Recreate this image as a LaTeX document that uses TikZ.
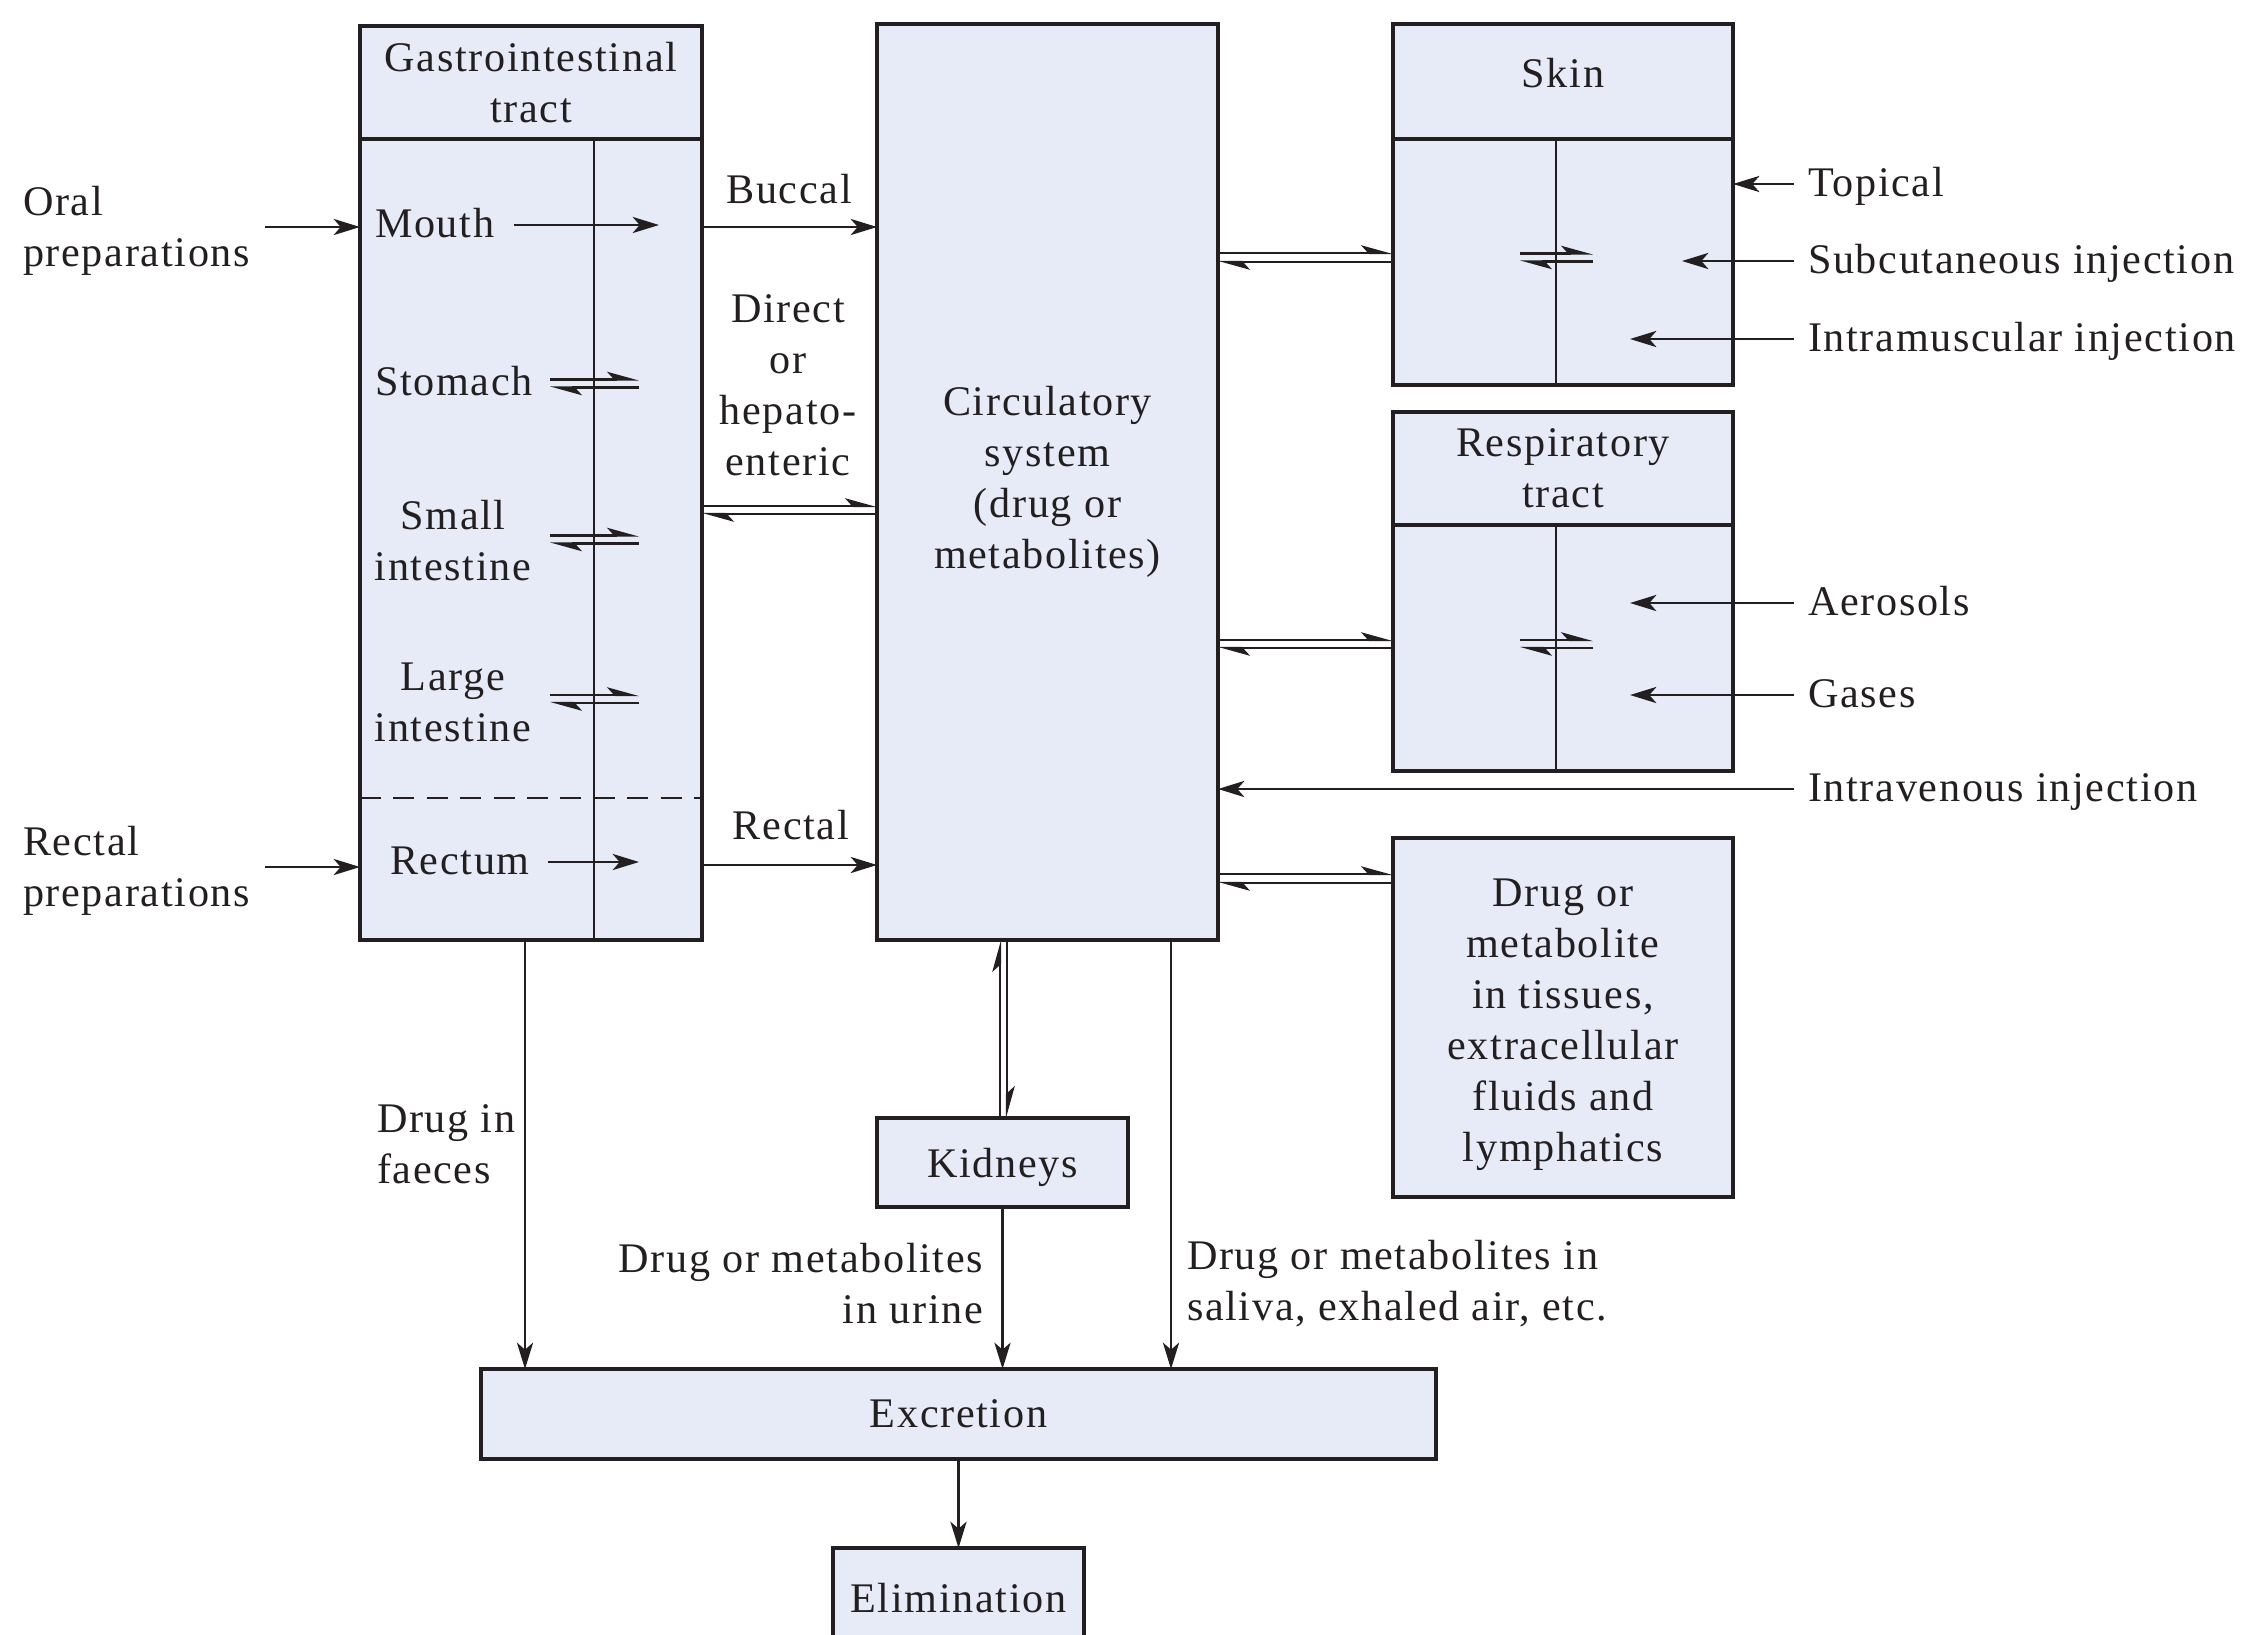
\documentclass[tikz,border=0pt]{standalone}
\usepackage{fontspec}
\setmainfont[LetterSpace=4]{Liberation Serif}
\usepackage{tikz}
\definecolor{boxfill}{RGB}{231,235,248}
\definecolor{ink}{RGB}{35,31,32}
\tikzset{drugbox/.style={draw=ink,fill=boxfill,line width=1pt,inner sep=0pt,outer sep=0pt,align=center},
         words/.style={inner sep=0pt,outer sep=0pt},
         flow/.style={draw=ink,line width=0.7pt,-{Stealth[length=7.5pt,width=4.6pt,inset=2pt]}},
         harp/.style={draw=ink,line width=0.6pt,-{Stealth[harpoon,length=8pt,width=4.4pt,inset=2pt]}},
         divider/.style={draw=ink,line width=0.6pt},
         dashline/.style={draw=ink,line width=0.6pt,dash pattern=on 6pt off 3.5pt}}
\usetikzlibrary{arrows.meta}
\usetikzlibrary{positioning}

\begin{document}
\begin{tikzpicture}[font=\fontsize{12}{14.5}\selectfont,text=ink]
\useasboundingbox (0,0) rectangle (22.5,-16.34);
\clip (0,0) rectangle (22.5,-16.34);

%%boxes
\node[drugbox,anchor=north west,minimum width=3.42cm,minimum height=1.13cm] (gihead) at (3.60,-0.26) {Gastrointestinal\\tract};
\node[drugbox,below=0pt of gihead,minimum width=3.42cm,minimum height=8.01cm] (gi) {};
\node[drugbox,anchor=north west,minimum width=3.41cm,minimum height=9.16cm] (circ) at (8.77,-0.24) {Circulatory\\system\\(drug or\\metabolites)};
\node[drugbox,anchor=north west,minimum width=3.40cm,minimum height=1.15cm,text depth=5pt] (skinhead) at (13.93,-0.24) {Skin};
\node[drugbox,below=0pt of skinhead,minimum width=3.40cm,minimum height=2.46cm] (skin) {};
\node[drugbox,anchor=north west,minimum width=3.40cm,minimum height=1.13cm] (resphead) at (13.93,-4.12) {Respiratory\\tract};
\node[drugbox,below=0pt of resphead,minimum width=3.40cm,minimum height=2.46cm] (resp) {};
\node[drugbox,anchor=north west,minimum width=3.40cm,minimum height=3.59cm] (tissues) at (13.93,-8.38) {};
\node[drugbox,anchor=north west,minimum width=2.51cm,minimum height=0.89cm,text depth=0pt] (kidneys) at (8.77,-11.18) {Kidneys};
\node[drugbox,anchor=north west,minimum width=9.55cm,minimum height=0.90cm] (excretion) at (4.81,-13.69) {Excretion};
\node[drugbox,below=0.89cm of excretion,minimum width=2.51cm,minimum height=1.0cm] (elim) {Elimination};

%%inner lines
\draw[divider] (5.94,0 |- gi.north) -- (5.94,0 |- gi.south);
\draw[dashline] (gi.west |- 0,-7.98) -- (gi.east |- 0,-7.98);
\draw[divider] (15.56,0 |- skin.north) -- (15.56,0 |- skin.south);
\draw[divider] (15.56,0 |- resp.north) -- (15.56,0 |- resp.south);

%%texts
\node[words,align=center] (tissuetext) at ([yshift=-0.07cm]tissues.center) {Drug or\\metabolite\\in tissues,\\extracellular\\fluids and\\lymphatics};
\node[words,anchor=west,align=left] (oral) at (0.23,-2.31) {Oral\\preparations};
\node[words,anchor=west,align=left] (rectalprep) at (0.23,-8.71) {Rectal\\preparations};
\node[words,anchor=mid west] (mouth) at (3.75,-2.29) {Mouth};
\node[words,anchor=mid west] (stomach) at (3.75,-3.87) {Stomach};
\node[words,align=center] (smallint) at (4.53,-5.41) {Small\\intestine};
\node[words,align=center] (largeint) at (4.53,-7.02) {Large\\intestine};
\node[words,anchor=mid west] (rectum) at (3.90,-8.66) {Rectum};
\node[words] (buccal) at (7.89,-1.89) {Buccal};
\node[words,align=center] (direct) at (7.88,-3.85) {Direct\\or\\hepato-\\enteric};
\node[words] (rectal) at (7.91,-8.25) {Rectal};
\node[words,anchor=mid west] (topical) at (18.08,-1.88) {Topical};
\node[words,anchor=mid west] (subcut) at (18.08,-2.65) {Subcutaneous injection};
\node[words,anchor=mid west] (intramusc) at (18.08,-3.43) {Intramuscular injection};
\node[words,anchor=mid west] (aerosols) at (18.08,-6.07) {Aerosols};
\node[words,anchor=mid west] (gases) at (18.08,-6.99) {Gases};
\node[words,anchor=mid west] (iv) at (18.08,-7.93) {Intravenous injection};
\node[words,anchor=west,align=left] (faeces) at (3.77,-11.44) {Drug in\\faeces};
\node[words,anchor=east,align=right] (urine) at (9.83,-12.84) {Drug or metabolites\\in urine};
\node[words,anchor=west,align=left] (saliva) at (11.87,-12.84) {Drug or metabolites in\\saliva, exhaled air, etc.};

%%one way arrows
\draw[flow] ([xshift=0.15cm,yshift=0.04cm]oral.east) -- ([yshift=0.04cm]gi.west |- oral.east);
\draw[flow] ([xshift=0.15cm,yshift=0.04cm]rectalprep.east) -- ([yshift=0.04cm]gi.west |- rectalprep.east);
\draw[flow] ([xshift=0.2cm,yshift=0.04cm]mouth.mid east) -- ([yshift=0.04cm]6.59,0 |- mouth.mid east);
\draw[flow] ([xshift=0.18cm,yshift=0.04cm]rectum.mid east) -- ([yshift=0.04cm]6.39,0 |- rectum.mid east);
\draw[flow] (gi.east |- 0,-2.27) -- (circ.west |- 0,-2.27);
\draw[flow] (gi.east |- 0,-8.65) -- (circ.west |- 0,-8.65);
\draw[flow] ([xshift=-0.14cm,yshift=0.04cm]topical.mid west) -- ([yshift=0.04cm]skin.east |- topical.mid west);
\draw[flow] ([xshift=-0.14cm,yshift=0.04cm]subcut.mid west) -- ([yshift=0.04cm]16.82,0 |- subcut.mid west);
\draw[flow] ([xshift=-0.14cm,yshift=0.04cm]intramusc.mid west) -- ([yshift=0.04cm]16.30,0 |- intramusc.mid west);
\draw[flow] ([xshift=-0.14cm,yshift=0.04cm]aerosols.mid west) -- ([yshift=0.04cm]16.30,0 |- aerosols.mid west);
\draw[flow] ([xshift=-0.14cm,yshift=0.04cm]gases.mid west) -- ([yshift=0.04cm]16.30,0 |- gases.mid west);
\draw[flow] ([xshift=-0.14cm,yshift=0.04cm]iv.mid west) -- ([yshift=0.04cm]circ.east |- iv.mid west);
\draw[flow] (5.25,0 |- gi.south) -- (5.25,0 |- excretion.north);
\draw[flow] (kidneys.south) -- (kidneys.south |- excretion.north);
\draw[flow] (11.71,0 |- circ.south) -- (11.71,0 |- excretion.north);
\draw[flow] (excretion.south) -- (elim.north);

%%two way harpoons
\foreach \y in {-3.835,-5.395,-6.99} {
  \draw[harp] (5.50,{\y+0.04}) -- (6.39,{\y+0.04});
  \draw[harp] (6.39,{\y-0.04}) -- (5.50,{\y-0.04});
}
\foreach \y in {-2.575,-6.44} {
  \draw[harp] (15.20,{\y+0.04}) -- (15.93,{\y+0.04});
  \draw[harp] (15.93,{\y-0.04}) -- (15.20,{\y-0.04});
}
\draw[harp] (gi.east |- 0,-5.06) -- (circ.west |- 0,-5.06);
\draw[harp] (circ.west |- 0,-5.14) -- (gi.east |- 0,-5.14);
\draw[harp] (circ.east |- 0,-2.53) -- (skin.west |- 0,-2.53);
\draw[harp] (skin.west |- 0,-2.62) -- (circ.east |- 0,-2.62);
\draw[harp] (circ.east |- 0,-6.40) -- (resp.west |- 0,-6.40);
\draw[harp] (resp.west |- 0,-6.48) -- (circ.east |- 0,-6.48);
\draw[harp] (circ.east |- 0,-8.74) -- (tissues.west |- 0,-8.74);
\draw[harp] (tissues.west |- 0,-8.83) -- (circ.east |- 0,-8.83);
\draw[harp] (10.00,0 |- kidneys.north) -- (10.00,0 |- circ.south);
\draw[harp] (10.07,0 |- circ.south) -- (10.07,0 |- kidneys.north);
\end{tikzpicture}
\end{document}
